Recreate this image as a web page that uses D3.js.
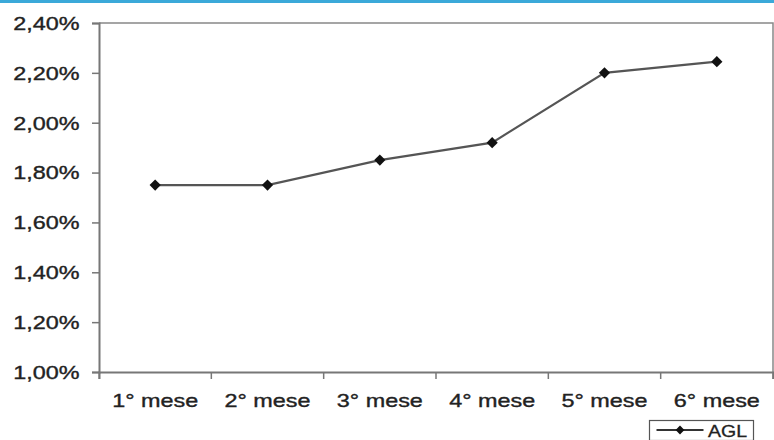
<!DOCTYPE html>
<html><head><meta charset="utf-8">
<script src="https://cdn.jsdelivr.net/npm/d3@7"></script>
<style>body{margin:0;background:#fff;}svg{display:block;}</style>
</head><body>
<svg id="c" width="774" height="440"></svg>
<script>
const categories = ["1° mese","2° mese","3° mese","4° mese","5° mese","6° mese"];
const values = [1.75, 1.75, 1.85, 1.92, 2.20, 2.245];
const yTicks = [1.0, 1.2, 1.4, 1.6, 1.8, 2.0, 2.2, 2.4];
const seriesName = "AGL";

const svg = d3.select("#c");
const m = {l: 99, r: 773, t: 23, b: 372};
const font = "'Liberation Sans', Arial, sans-serif";
const sx = 1.3; // horizontal stretch of text in the reference

svg.append("rect").attr("x",0).attr("y",0).attr("width",774).attr("height",3).attr("fill","#3ba9d9");

const x = d3.scaleBand().domain(categories).range([m.l, m.r]);
const y = d3.scaleLinear().domain([1.0, 2.4]).range([m.b, m.t]);
const fmt = v => v.toFixed(2).replace(".", ",") + "%";

svg.append("path").attr("d", `M${m.l},${m.t}H${m.r}V${m.b}`).attr("fill","none").attr("stroke","#888").attr("stroke-width",1.5);

const ya = svg.append("g").attr("transform",`translate(${m.l},0)`)
  .call(d3.axisLeft(y).tickValues(yTicks).tickFormat("").tickSize(7));
const xa = svg.append("g").attr("transform",`translate(0,${m.b})`)
  .call(d3.axisBottom(x).tickFormat("").tickSize(7));
xa.selectAll(".tick line").attr("x1", x.bandwidth()/2).attr("x2", x.bandwidth()/2);
xa.append("line").attr("x1",m.l).attr("x2",m.l).attr("y1",0).attr("y2",7).attr("stroke","#777");

[ya, xa].forEach(a => {
  a.select(".domain").attr("stroke","#777").attr("stroke-width",2);
  a.selectAll(".tick line").attr("stroke","#777").attr("stroke-width",1.5);
  a.selectAll("text").remove();
});

svg.selectAll(".yl").data(yTicks).join("text")
  .attr("transform", d => `translate(79.5,${y(d)+6.8}) scale(${sx},1)`)
  .attr("text-anchor","end").attr("font-family",font).attr("font-size",18).attr("fill","#222")
  .attr("stroke","#222").attr("stroke-width",0.35)
  .text(fmt);
svg.selectAll(".xl").data(categories).join("text")
  .attr("transform", d => `translate(${x(d)+x.bandwidth()/2},407) scale(${sx},1)`)
  .attr("text-anchor","middle").attr("font-family",font).attr("font-size",18).attr("fill","#222")
  .attr("stroke","#222").attr("stroke-width",0.35)
  .text(d => d);

const pts = categories.map((c,i) => [x(c) + x.bandwidth()/2, y(values[i])]);
svg.append("path").attr("d", d3.line()(pts)).attr("fill","none").attr("stroke","#555").attr("stroke-width",2.2);
const diamond = d3.symbol().type(d3.symbolDiamond2).size(80);
svg.selectAll(".mk").data(pts).join("path")
  .attr("transform", d => `translate(${d[0]},${d[1]})`)
  .attr("d", diamond).attr("fill","#111");

const lg = svg.append("g").attr("transform","translate(649.5,420.5)");
lg.append("rect").attr("width",104).attr("height",20).attr("fill","#fff").attr("stroke","#555").attr("stroke-width",1.2);
lg.append("line").attr("x1",7).attr("x2",54).attr("y1",9.5).attr("y2",9.5).attr("stroke","#333").attr("stroke-width",1.8);
lg.append("path").attr("transform","translate(30.5,9.5)").attr("d", d3.symbol().type(d3.symbolDiamond2).size(50)).attr("fill","#111");
lg.append("text").attr("transform",`translate(58.5,16) scale(1.22,1)`).attr("font-family",font).attr("font-size",16).attr("fill","#222")
  .attr("stroke","#222").attr("stroke-width",0.3).text(seriesName);
</script>
</body></html>
